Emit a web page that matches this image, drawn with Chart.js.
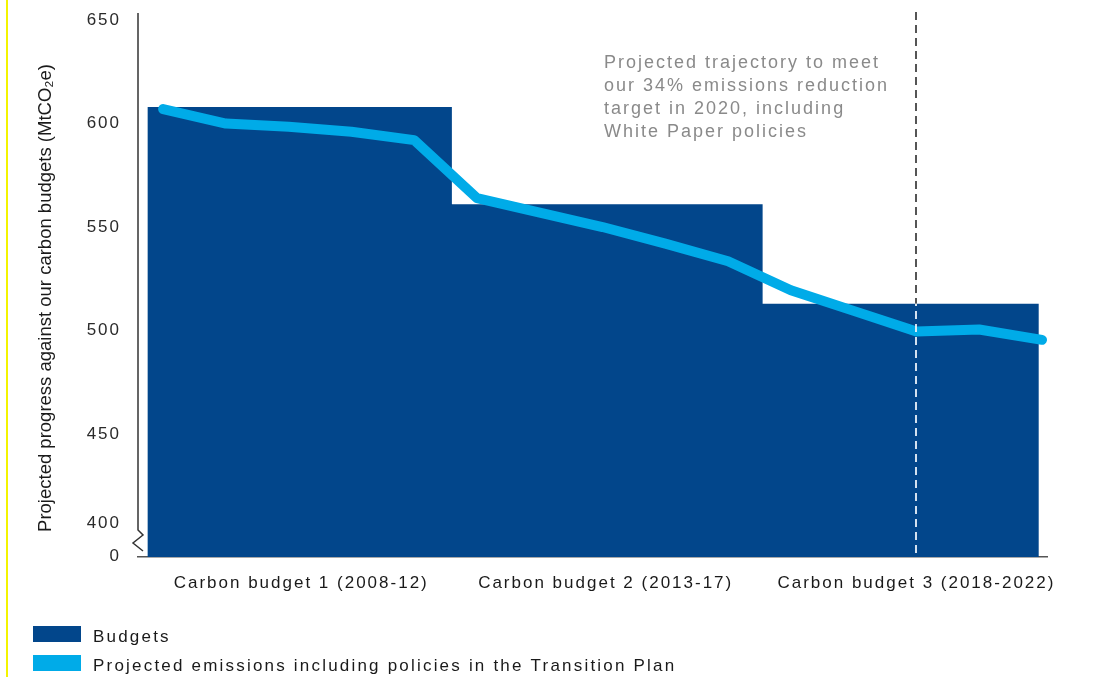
<!DOCTYPE html>
<html>
<head>
<meta charset="utf-8">
<script src="https://cdn.jsdelivr.net/npm/chart.js@4.4.1/dist/chart.umd.min.js"></script>
<style>
  html, body { margin: 0; padding: 0; background: #ffffff; }
  #wrap { position: relative; width: 1096px; height: 677px; }
</style>
</head>
<body>
<div id="wrap"><canvas id="chart"></canvas></div>
<script>
// ---------------- data ----------------
const years = [2008, 2009, 2010, 2011, 2012, 2013, 2014, 2015, 2016, 2017, 2018, 2019, 2020, 2021, 2022];
const projectedEmissions = [607, 600, 598.5, 596, 592, 564, 557, 550, 542, 533.5, 519.5, 509.5, 499.5, 500.5, 495.5];

const budgetNames = ['Carbon budget 1 (2008-12)', 'Carbon budget 2 (2013-17)', 'Carbon budget 3 (2018-2022)'];
const budgetValues = [608, 561, 513];
const budgetEdges = [2007.75, 2012.6, 2017.55, 2021.95];   // start of each budget block, then end of last
const budgetLabelYears = [2010.2, 2015.05, 2020];

// broken y axis: bottom of the axis is labelled 0, break just above it
const yTickValues = [391, 407, 450, 500, 550, 600, 650];
const yTickLabels = ['0', '400', '450', '500', '550', '600', '650'];

const targetYear = 2020;
const annotationLines = [
  'Projected trajectory to meet',
  'our 34% emissions reduction',
  'target in 2020, including',
  'White Paper policies'
];
const yAxisTitle = 'Projected progress against our carbon budgets (MtCO\u2082e)';
const seriesNames = ['Budgets', 'Projected emissions including policies in the Transition Plan'];

// ---------------- styles ----------------
const BUDGET_COLOR = '#02468B';
const LINE_COLOR = '#00ABE8';
const FONT = '"Liberation Sans", Arial, Helvetica, sans-serif';
Chart.defaults.font.family = FONT;
Chart.defaults.color = '#1a1a1a';

const budgetPoints = budgetEdges.map((x, i) => ({ x: x, y: budgetValues[Math.min(i, budgetValues.length - 1)] }));
const emissionPoints = years.map((y, i) => ({ x: y, y: projectedEmissions[i] }));

function noScalePadding(s) {
  s.paddingTop = 0; s.paddingBottom = 0; s.paddingLeft = 0; s.paddingRight = 0;
}

const decor = {
  id: 'decor',
  beforeDraw(chart) {
    const ctx = chart.ctx;
    ctx.letterSpacing = '2px';
    ctx.save();
    ctx.fillStyle = '#f4f400';
    ctx.fillRect(6, 0, 2, chart.height);
    ctx.restore();
  },
  afterDatasetsDraw(chart) {
    const ctx = chart.ctx;
    const xs = chart.scales.x, ys = chart.scales.y;
    const x = Math.round(xs.getPixelForValue(targetYear));
    let bi = 0;
    for (let i = 0; i < budgetValues.length; i++) if (targetYear >= budgetEdges[i]) bi = i;
    const yBar = ys.getPixelForValue(budgetValues[bi]);
    const top = chart.chartArea.top - 1;
    const bottom = chart.chartArea.bottom;
    ctx.save();
    ctx.lineWidth = 2;
    ctx.setLineDash([8, 5]);
    ctx.strokeStyle = '#555555';
    ctx.beginPath(); ctx.moveTo(x, top); ctx.lineTo(x, yBar); ctx.stroke();
    ctx.strokeStyle = 'rgba(235,242,250,0.9)';
    ctx.lineDashOffset = (yBar - top);
    ctx.beginPath(); ctx.moveTo(x, yBar); ctx.lineTo(x, bottom); ctx.stroke();
    ctx.restore();
  },
  afterDraw(chart) {
    const ctx = chart.ctx;
    const a = chart.chartArea;
    const L = a.left;
    // y axis line with break
    ctx.save();
    ctx.strokeStyle = '#333333';
    ctx.lineWidth = 1.5;
    ctx.beginPath();
    ctx.moveTo(L, a.top);
    ctx.lineTo(L, a.bottom - 27);
    ctx.lineTo(L + 5, a.bottom - 22);
    ctx.lineTo(L - 5, a.bottom - 14);
    ctx.lineTo(L + 5, a.bottom - 6);
    ctx.stroke();
    ctx.restore();

    // y axis title (vertical)
    ctx.save();
    ctx.letterSpacing = '0px';
    ctx.translate(46, 298);
    ctx.rotate(-Math.PI / 2);
    ctx.font = '18.5px ' + FONT;
    ctx.fillStyle = '#1a1a1a';
    ctx.textAlign = 'center';
    ctx.textBaseline = 'middle';
    ctx.fillText(yAxisTitle, 0, 0);
    ctx.restore();

    // annotation
    ctx.save();
    ctx.font = '18px ' + FONT;
    ctx.fillStyle = '#8a8a8a';
    ctx.textAlign = 'left';
    ctx.textBaseline = 'alphabetic';
    annotationLines.forEach((t, i) => ctx.fillText(t, 604, 68 + i * 23));
    ctx.restore();

    // legend
    ctx.save();
    ctx.letterSpacing = '2.2px';
    ctx.font = '17px ' + FONT;
    ctx.textAlign = 'left';
    ctx.textBaseline = 'alphabetic';
    const legendItems = [
      { text: seriesNames[0], color: chart.data.datasets[1].backgroundColor },
      { text: seriesNames[1], color: chart.data.datasets[0].borderColor }
    ];
    legendItems.forEach((it, i) => {
      const y0 = 626 + i * 29;
      ctx.fillStyle = it.color;
      ctx.fillRect(33, y0, 48, 16);
      ctx.fillStyle = '#1a1a1a';
      ctx.fillText(it.text, 93, y0 + 16);
    });
    ctx.restore();
  }
};

new Chart(document.getElementById('chart'), {
  type: 'line',
  data: {
    datasets: [
      {
        label: seriesNames[1],
        data: emissionPoints,
        borderColor: LINE_COLOR,
        backgroundColor: LINE_COLOR,
        borderWidth: 10,
        borderCapStyle: 'round',
        borderJoinStyle: 'round',
        pointRadius: 0,
        fill: false,
        tension: 0,
        order: 0
      },
      {
        label: seriesNames[0],
        data: budgetPoints,
        stepped: 'before',
        borderWidth: 0,
        borderColor: BUDGET_COLOR,
        backgroundColor: BUDGET_COLOR,
        pointRadius: 0,
        fill: 'start',
        order: 1
      }
    ]
  },
  options: {
    responsive: true,
    maintainAspectRatio: false,
    animation: false,
    layout: { padding: { left: 0, top: 13, right: 49, bottom: 0 } },
    plugins: { legend: { display: false }, tooltip: { enabled: false } },
    scales: {
      x: {
        type: 'linear',
        min: 2007.6,
        max: 2022.08,
        grid: { display: false, drawTicks: false },
        border: { display: true, color: '#555555', width: 1.5 },
        afterBuildTicks: (s) => { s.ticks = budgetLabelYears.map(v => ({ value: v })); },
        afterFit: (s) => { s.height = 120; noScalePadding(s); },
        ticks: {
          autoSkip: false,
          maxRotation: 0,
          padding: 16,
          font: { size: 17 },
          color: '#1a1a1a',
          callback: (v, i) => budgetNames[i]
        }
      },
      y: {
        min: 390.6,
        max: 653.4,
        grid: { display: false, drawTicks: false },
        border: { display: false },
        afterBuildTicks: (s) => { s.ticks = yTickValues.map(v => ({ value: v })); },
        afterFit: (s) => { s.width = 138; noScalePadding(s); },
        ticks: {
          autoSkip: false,
          padding: 17,
          font: { size: 17 },
          color: '#2a2a2a',
          callback: (v, i) => yTickLabels[i]
        }
      }
    }
  },
  plugins: [decor]
});
</script>
</body>
</html>
